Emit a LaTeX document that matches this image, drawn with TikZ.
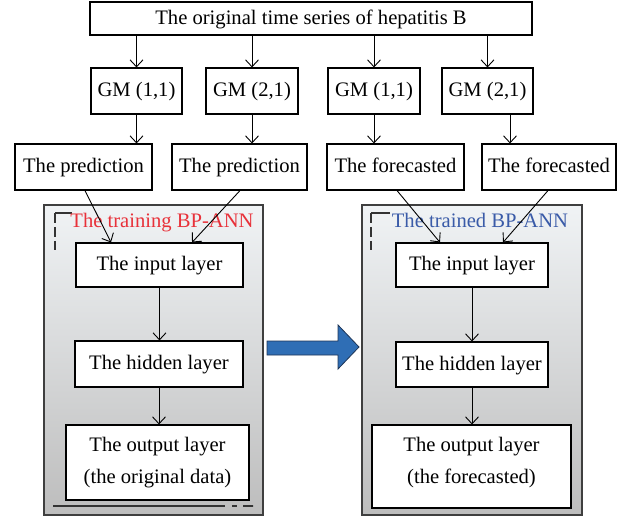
\documentclass[tikz,border=0pt]{standalone}
\usepackage{fontspec}
\setmainfont{Liberation Serif}
\usetikzlibrary{arrows.meta}
\definecolor{frame}{HTML}{3F3F3F}
\definecolor{shtop}{HTML}{F0F3F5}
\definecolor{shbot}{HTML}{BDBDBD}
\definecolor{trainred}{HTML}{E8313A}
\definecolor{trainblue}{HTML}{3A5BA8}
\definecolor{arrowblue}{HTML}{2F6EB5}
\definecolor{arrowedge}{HTML}{1E3556}
\definecolor{markgray}{HTML}{333333}
\begin{document}
\begin{tikzpicture}[x=1pt,y=-1pt,
  box/.style={draw=black, line width=1.1pt, fill=white, inner sep=0pt,
              font=\fontsize{20.6}{32}\selectfont, align=center},
  one/.style={box, text height=16pt, text depth=4.5pt},
  arr/.style={-{Straight Barb[length=7pt,width=13pt]}, line width=0.9pt},
  cont/.style={draw=frame, line width=1.6pt, inner sep=0pt, top color=shtop, bottom color=shbot},
  markline/.style={draw=markgray, line width=1.1pt},
  lbl/.style={font=\fontsize{20.6}{24}\selectfont, inner sep=0pt, text height=14pt, text depth=4.5pt}
  ]
\useasboundingbox (0,0) rectangle (628,518);

% containers
\node[cont, minimum width=219pt, minimum height=310pt] (L) at (153.5,360) {};
\node[cont, minimum width=220pt, minimum height=310pt] (R) at (472,360) {};

% corner marks
\draw[markline] (72,213) -- (55,213);
\draw[markline, dash pattern=on 10pt off 4pt] (55,213) -- (55,250);
\draw[markline] (53,506) -- (225,506);
\draw[markline, dash pattern=on 5pt off 6pt on 10pt off 0pt] (232,506) -- (253,506);
\draw[markline] (390,213) -- (371,213);
\draw[markline, dash pattern=on 10pt off 4pt] (371,213) -- (371,250);

% container labels
\node[lbl, text=trainred] (lt) at (162,222.5) {The training BP-ANN};
\node[lbl, text=trainblue] (rt) at (480,222.5) {The trained BP-ANN};

% top row
\node[one, minimum width=442pt, minimum height=33pt] (top) at (311,18.5) {The original time series of hepatitis B};
\node[one, minimum width=91pt, minimum height=46pt] (GM1) at (136.5,91) {GM (1,1)};
\node[one, minimum width=92pt, minimum height=46pt] (GM2) at (252,91) {GM (2,1)};
\node[one, minimum width=92pt, minimum height=46pt] (GM3) at (374,91) {GM (1,1)};
\node[one, minimum width=91pt, minimum height=46pt] (GM4) at (487.5,91) {GM (2,1)};

\node[one, minimum width=137pt, minimum height=46pt] (P1) at (83.5,167) {The prediction};
\node[one, minimum width=135pt, minimum height=46pt] (P2) at (239.5,167) {The prediction};
\node[one, minimum width=137pt, minimum height=46pt] (P3) at (395.5,167) {The forecasted};
\node[one, minimum width=134pt, minimum height=46pt] (P4) at (549,167) {The forecasted};

% inner boxes
\node[one, minimum width=167pt, minimum height=44pt] (in1) at (159.5,265) {The input layer};
\node[one, minimum width=168pt, minimum height=46pt] (hid1) at (159,364) {The hidden layer};
\node[box, minimum width=183pt, minimum height=75pt] (out1) at (157.5,462.5) {The output layer\\(the original data)};

\node[one, minimum width=152pt, minimum height=44pt] (in2) at (472,265) {The input layer};
\node[one, minimum width=152pt, minimum height=45pt] (hid2) at (472,364.5) {The hidden layer};
\node[box, minimum width=199pt, minimum height=83pt] (out2) at (471.5,466.5) {The output layer\\(the forecasted)\rule[-12.5pt]{0pt}{0pt}};

% big arrow
\draw[fill=arrowblue, draw=arrowedge, line width=0.8pt, line join=miter]
  (267,341) -- (338,341) -- (338,325) -- (359,347) -- (338,369) -- (338,355) -- (267,355) -- cycle;

% connectors
\draw[arr] (top.south -| GM1) -- (GM1.north);
\draw[arr] (top.south -| GM2) -- (GM2.north);
\draw[arr] (top.south -| GM3) -- (GM3.north);
\draw[arr] (top.south -| GM4) -- (GM4.north);

\draw[arr] (GM1.south) -- (GM1.south |- P1.north);
\draw[arr] (GM2.south) -- (GM2.south |- P2.north);
\draw[arr] (GM3.south) -- (GM3.south |- P3.north);
\draw[arr] ([xshift=22.5pt]GM4.south) -- ([xshift=22.5pt]GM4.south |- P4.north);

\draw[arr] ([xshift=1.5pt]P1.south) -- ([xshift=-48.5pt]in1.north);
\draw[arr] ([xshift=0.5pt]P2.south) -- ([xshift=32.5pt]in1.north);
\draw[arr] ([xshift=1.5pt]P3.south) -- ([xshift=-32pt]in2.north);
\draw[arr] ([xshift=-1pt]P4.south) -- ([xshift=31pt]in2.north);

\draw[arr] (in1.south) -- (in1.south |- hid1.north);
\draw[arr] (hid1.south) -- (hid1.south |- out1.north);
\draw[arr] (in2.south) -- (hid2.north);
\draw[arr] (hid2.south) -- (hid2.south |- out2.north);
\end{tikzpicture}
\end{document}
